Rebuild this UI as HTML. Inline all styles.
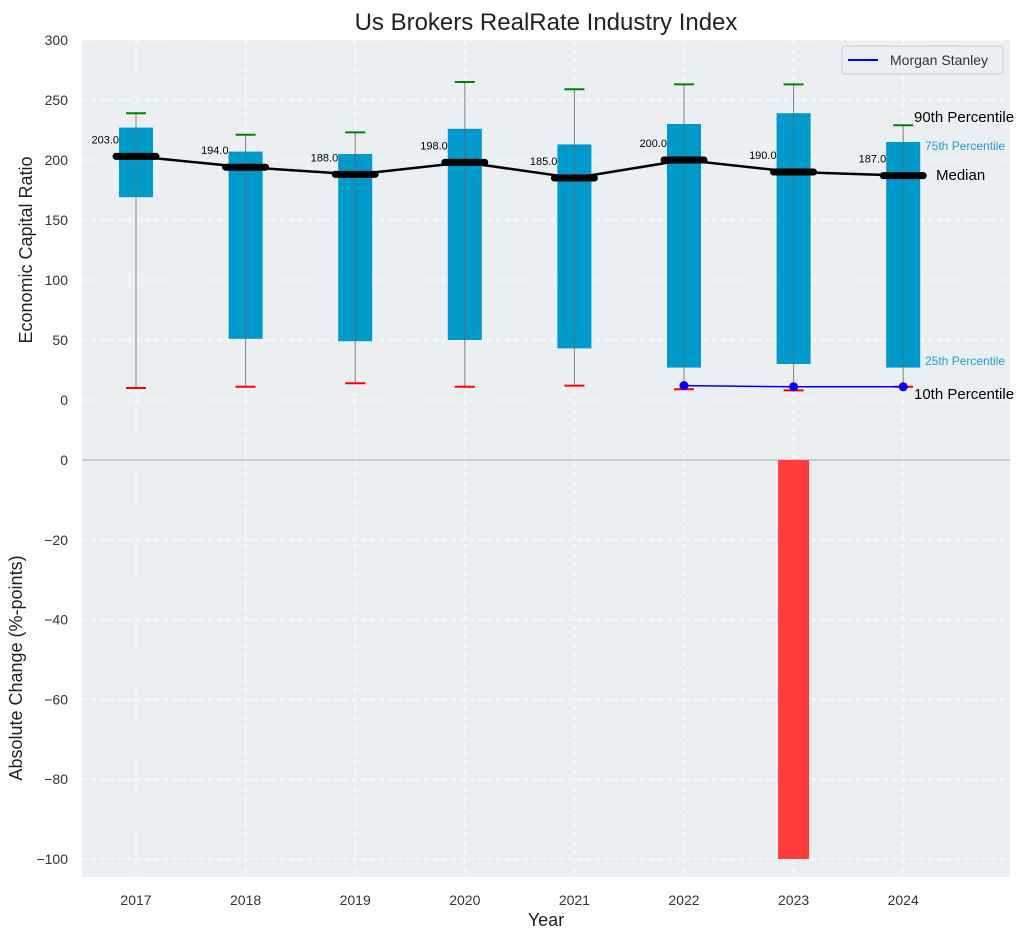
<!DOCTYPE html>
<html><head><meta charset="utf-8"><style>
html,body{margin:0;padding:0;background:#fff;}
svg{display:block;font-family:"Liberation Sans",Arial,sans-serif;}
</style></head><body>
<svg id="chart" width="1034" height="940" viewBox="0 0 1034 940" xmlns="http://www.w3.org/2000/svg">
<rect x="82" y="40" width="928" height="420" fill="#eceff1"/>
<rect x="82" y="460" width="928" height="417" fill="#eceff1"/>
<g id="grid"></g>
<g id="marks"></g>
<text x="546" y="30" font-size="24" text-anchor="middle" fill="#222">Us Brokers RealRate Industry Index</text>
<text transform="translate(32,250) rotate(-90)" font-size="18" text-anchor="middle" fill="#222">Economic Capital Ratio</text>
<text transform="translate(22,668) rotate(-90)" font-size="18" text-anchor="middle" fill="#222">Absolute Change (%-points)</text>
<text x="546" y="926" font-size="18" text-anchor="middle" fill="#222">Year</text>
<g>
<rect x="842" y="46" width="161" height="28" rx="3" fill="#eceff1" stroke="#ccc"/>
<line x1="848" y1="60" x2="878" y2="60" stroke="#0000ff" stroke-width="2"/>
<text x="890" y="65" font-size="14" fill="#333">Morgan Stanley</text>
</g>
<text x="914" y="122" font-size="15" fill="#000">90th Percentile</text>
<text x="925" y="150" font-size="12" fill="#1a9fd0">75th Percentile</text>
<text x="936" y="180" font-size="15" fill="#000">Median</text>
<text x="925" y="365" font-size="12" fill="#1a9fd0">25th Percentile</text>
<text x="914" y="399" font-size="15" fill="#000">10th Percentile</text>
</svg>
<script>
const years=["2017","2018","2019","2020","2021","2022","2023","2024"];
const p10=[10,11,14,11,12,9,8,11];
const p25=[169,51,49,50,43,27,30,27];
const median=[203,194,188,198,185,200,190,187];
const p75=[227,207,205,226,213,230,239,215];
const p90=[239,221,223,265,259,263,263,229];
const msYears=["2022","2023","2024"];
const msValues=[12,11,11];
const changes=[0,0,0,0,0,0,-100,0];
const topTicks=[0,50,100,150,200,250,300];
const bottomTicks=[0,-20,-40,-60,-80,-100];

const NS="http://www.w3.org/2000/svg";
const grid=document.getElementById('grid'), marks=document.getElementById('marks');
const x=i=>136+i*109.6;
const yT=v=>400-v*1.2;
const yB=v=>460-v*(-3.99)*-1;
function mk(tag,attrs,parent,text){const e=document.createElementNS(NS,tag);for(const k in attrs)e.setAttribute(k,attrs[k]);if(text!==undefined)e.textContent=text;parent.appendChild(e);return e;}

topTicks.forEach(t=>{
  const g=mk('line',{x1:82,x2:1010,y1:yT(t),y2:yT(t),stroke:'#fff','stroke-dasharray':'5,4','stroke-width':1},grid);
  
  
  const l=mk('text',{x:68,y:yT(t)+5,'font-size':14,'text-anchor':'end',fill:'#333'},grid,String(t));
  
  
});
bottomTicks.forEach(t=>{
  const y=460+(-t)*3.99;
  if(t!==0){const g=mk('line',{x1:82,x2:1010,y1:y,y2:y,stroke:'#fff','stroke-dasharray':'5,4','stroke-width':1},grid);
  
  }
  const l=mk('text',{x:68,y:y+5,'font-size':14,'text-anchor':'end',fill:'#333'},grid,t<0?'\u2212'+(-t):String(t));
  
  
});
years.forEach((yr,i)=>{
  const g=mk('line',{x1:x(i),x2:x(i),y1:40,y2:877,stroke:'#fff','stroke-dasharray':'5,4','stroke-width':1},grid);
  
  
  const l=mk('text',{x:x(i),y:905,'font-size':14,'text-anchor':'middle',fill:'#333'},grid,yr);
  
  
});
const zl=mk('line',{x1:82,x2:1010,y1:460,y2:460,stroke:'#aaa','stroke-width':1},grid);



years.forEach((yr,i)=>{
  const cx=x(i);
  const b=mk('rect',{x:cx-17,y:yT(p75[i]),width:34,height:yT(p25[i])-yT(p75[i]),fill:'#0099cc'},marks);
  
  
  const w=mk('line',{x1:cx,x2:cx,y1:yT(p90[i]),y2:yT(p10[i]),stroke:'#666','stroke-opacity':0.8,'stroke-width':1},marks);
  
  
  const c1=mk('line',{x1:cx-10,x2:cx+10,y1:yT(p90[i]),y2:yT(p90[i]),stroke:'#008000','stroke-width':2},marks);
  
  
  const c2=mk('line',{x1:cx-10,x2:cx+10,y1:yT(p10[i]),y2:yT(p10[i]),stroke:'#ff0000','stroke-width':2},marks);
  
  
  if(changes[i]!==0){
    const y0=460, y1=460+(-changes[i])*3.99;
    const cb=mk('rect',{x:cx-15.5,y:Math.min(y0,y1),width:31,height:Math.abs(y1-y0),fill:changes[i]<0?'#ff3b3b':'#2ca02c'},marks);
    
    
  }
});
const pts=years.map((yr,i)=>x(i)+','+yT(median[i])).join(' ');
const ml=mk('polyline',{points:pts,fill:'none',stroke:'#000','stroke-width':2.5},marks);


years.forEach((yr,i)=>{
  const cx=x(i);
  const m=mk('line',{x1:cx-20,x2:cx+20,y1:yT(median[i]),y2:yT(median[i]),stroke:'#000','stroke-width':7,'stroke-linecap':'round'},marks);
  
  
  const t=mk('text',{x:cx-17,y:yT(median[i])-13,'font-size':11,'text-anchor':'end',fill:'#000'},marks,median[i].toFixed(1));
  
  
});
const msPts=msYears.map((yr,k)=>x(years.indexOf(yr))+','+yT(msValues[k])).join(' ');
const msl=mk('polyline',{points:msPts,fill:'none',stroke:'#0000ff','stroke-width':1.5},marks);


msYears.forEach((yr,k)=>{
  const d=mk('circle',{cx:x(years.indexOf(yr)),cy:yT(msValues[k]),r:4.5,fill:'#0000ff'},marks);
  
  
});
</script>
</body></html>
